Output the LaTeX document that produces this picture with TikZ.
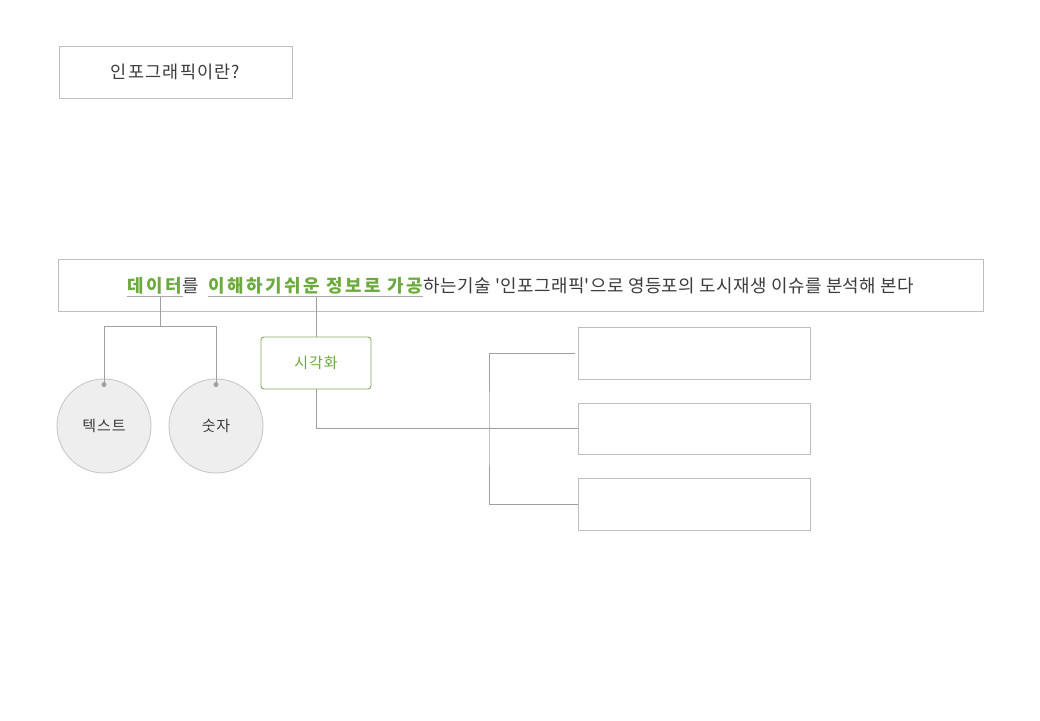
\documentclass[tikz,border=0pt]{standalone}
\usepackage{fontspec}
\setmainfont{Noto Sans CJK KR}[Ligatures=TeXOff]
\usetikzlibrary{calc}
\definecolor{grn}{RGB}{108,170,62}
\definecolor{txt}{RGB}{60,60,60}
\definecolor{bord}{RGB}{190,190,190}
\definecolor{lin}{RGB}{160,160,160}
\definecolor{cfill}{RGB}{238,238,238}
\definecolor{cbord}{RGB}{200,200,200}
\definecolor{vbord}{RGB}{135,170,105}
\definecolor{uline}{RGB}{170,170,170}
\tikzset{
  box/.style={draw=bord, line width=0.9pt, inner sep=0pt, text=txt},
  conn/.style={draw=lin, line width=0.9pt},
  bubble/.style={circle, draw=cbord, fill=cfill, line width=0.9pt, minimum size=94pt, inner sep=0pt, text=txt, font=\fontsize{15}{17}\selectfont\addfontfeature{LetterSpace=6}},
  word/.style={inner sep=0pt, anchor=base west},
  hot/.style={word, text=grn, font=\fontsize{17.9}{20}\selectfont\bfseries\addfontfeature{LetterSpace=14}},
  plain/.style={word, text=txt, font=\fontsize{17.9}{20}\selectfont\addfontfeature{LetterSpace=2.4}},
  ul/.style={draw=uline, line width=0.9pt},
  dot/.style={circle, fill=lin, inner sep=0pt, minimum size=5pt}
}
\begin{document}
\begin{tikzpicture}[x=1pt,y=-1pt]
\useasboundingbox (0,0) rectangle (1040,720);
\fill[white] (0,0) rectangle (1040,720);

% title
\node[box, minimum width=233pt, minimum height=52pt, font=\fontsize{17.5}{19}\selectfont\addfontfeature{LetterSpace=7}] (title) at (175.5,72) {인포그래픽이란?};

% header frame
\node[box, minimum width=925pt, minimum height=52pt] (header) at (520.5,285) {};

% header text chain
\node[hot, font=\fontsize{17.9}{20}\selectfont\bfseries\addfontfeature{LetterSpace=16}] (t1) at (127,292) {데이터};
\node[plain] (t2) at (t1.base east) {를};
\node[hot] (t3) at ([xshift=9pt]t2.base east) {이해하기쉬운 정보로 가공};
\node[plain] (t4) at (t3.base east) {하는기술 '인포그래픽'으로 영등포의 도시재생 이슈를 분석해 본다};

% underlines
\coordinate (u1w) at ($(t1.base west)+(0,4.5)$);
\coordinate (u1e) at ($(t1.base east)+(0,4.5)$);
\coordinate (u3w) at ($(t3.base west)+(0,4.5)$);
\coordinate (u3e) at ($(t3.base east)+(0,4.5)$);
\coordinate (u3) at ($(t3.base)+(0,4.5)$);
\draw[ul] (u1w) -- (u1e);
\draw[ul] (u3w) -- (u3e);

% circles
\node[bubble] (c1) at (104,426) {텍스트};
\node[bubble] (c2) at (216,426) {숫자};
\node[dot] (d1) at ($(c1.north)+(0,6)$) {};
\node[dot] (d2) at ($(c2.north)+(0,6)$) {};

% visualisation box
\node[draw=vbord, line width=0.9pt, rounded corners=3pt, minimum width=110pt, minimum height=52pt, inner sep=0pt, text=grn, font=\fontsize{15}{17}\selectfont\addfontfeature{LetterSpace=7}] (vis) at (316,363) {시각화};

% right boxes
\node[box, minimum width=232pt, minimum height=52pt] (r1) at (694,353) {};
\node[box, minimum width=232pt, minimum height=51pt] (r2) at (694,428.5) {};
\node[box, minimum width=232pt, minimum height=52pt] (r3) at (694,504) {};

% connectors
\coordinate (mid) at ($(d1.center)!0.5!(d2.center)$);
\coordinate (u1) at (u1w -| mid);
\coordinate (j1) at ($(u1)+(0,30)$);
\draw[conn] (u1) -- (j1);
\draw[conn] (d1.center) |- (j1) -| (d2.center);
\draw[conn] (u3 -| vis.north) -- (vis.north);
\draw[conn] (vis.south) |- (r2.west);
\coordinate (b1) at ($(r1.west)+(-3,0)$);
\coordinate (trunk) at (489,428.5);
\draw[conn] (b1) -| (trunk) |- (r3.west);
\end{tikzpicture}
\end{document}
